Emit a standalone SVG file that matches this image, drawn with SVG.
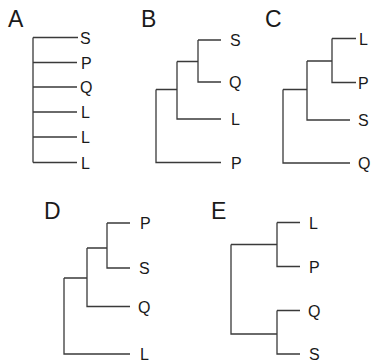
<svg xmlns="http://www.w3.org/2000/svg" width="375" height="362" viewBox="0 0 375 362">
<style>
.ln{fill:none;stroke:#3a3a3a;stroke-width:1.3;stroke-linecap:butt}
.lab{font-family:"Liberation Sans",Arial,sans-serif;font-size:16px;fill:#1a1a1a}
.ttl{font-family:"Liberation Sans",Arial,sans-serif;font-size:23px;fill:#1a1a1a}
</style>
<rect width="375" height="362" fill="#fff"/>
<g id="connectors">
<path class="ln" d="M33,37.5V162.5M33,37.5H78M33,62.5H77M33,87H77M33,112H77M33,137H77M33,162.5H77"/>
<path class="ln" d="M198,40H221M198,40V82H221M177,61.5H198M177,61.5V119H221M156,89.5H177M156,89.5V162.5H221"/>
<path class="ln" d="M332,38.5H356M332,38.5V82.5H356M307,61H332M307,61V120H350M283,89.5H307M283,89.5V163H350"/>
<path class="ln" d="M107,223H130M107,223V268H130M87,248H107M87,248V306.5H130M64,278H87M64,278V354H130"/>
<path class="ln" d="M277,222.5H300M277,222.5V266.5H300M231,244.5H277M231,244.5V334H277M277,310.5H300M277,310.5V354H300"/>
</g>
<g id="treeA">
<text class="ttl" x="8" y="26.5">A</text>
<text class="lab" x="80" y="43.5">S</text>
<text class="lab" x="81" y="68.5">P</text>
<text class="lab" x="80" y="93">Q</text>
<text class="lab" x="81" y="118">L</text>
<text class="lab" x="81" y="143">L</text>
<text class="lab" x="81" y="168.5">L</text>
</g>
<g id="treeB">
<text class="ttl" x="141" y="26.5">B</text>
<text class="lab" x="230" y="46">S</text>
<text class="lab" x="229" y="88">Q</text>
<text class="lab" x="231" y="125">L</text>
<text class="lab" x="231" y="168.5">P</text>
</g>
<g id="treeC">
<text class="ttl" x="265" y="26.5">C</text>
<text class="lab" x="359" y="44.5">L</text>
<text class="lab" x="358" y="88.5">P</text>
<text class="lab" x="358" y="126">S</text>
<text class="lab" x="358" y="169">Q</text>
</g>
<g id="treeD">
<text class="ttl" x="44" y="218.5">D</text>
<text class="lab" x="140" y="229">P</text>
<text class="lab" x="139" y="274">S</text>
<text class="lab" x="138" y="312.5">Q</text>
<text class="lab" x="140" y="360">L</text>
</g>
<g id="treeE">
<text class="ttl" x="211" y="218.5">E</text>
<text class="lab" x="309" y="228.5">L</text>
<text class="lab" x="309" y="272.5">P</text>
<text class="lab" x="308" y="316.5">Q</text>
<text class="lab" x="309" y="360">S</text>
</g>
</svg>
